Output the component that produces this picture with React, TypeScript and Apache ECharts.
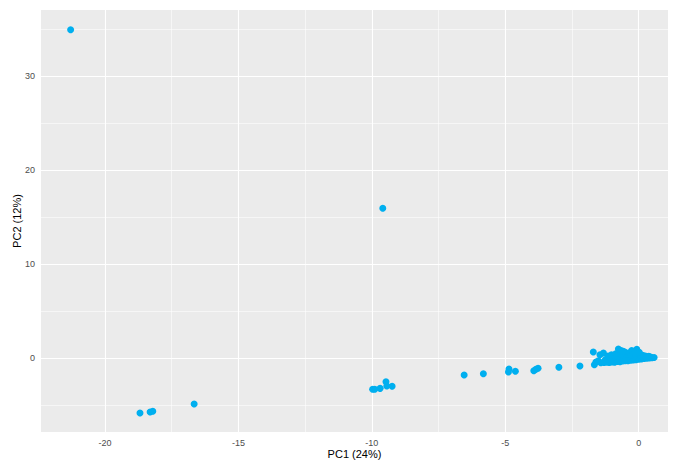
import React, { useEffect, useRef } from "react";
import * as echarts from "echarts";

// PCA scores: [PC1, PC2]
const outlierPoints: number[][] = [
  [-21.29, 34.9],
  [-9.59, 15.92],
  [-16.66, -4.89],
  [-18.69, -5.85],
  [-18.31, -5.74],
  [-18.21, -5.67],
  [-9.97, -3.33],
  [-9.89, -3.33],
  [-9.69, -3.23],
  [-9.47, -2.52],
  [-9.44, -2.98],
  [-9.24, -3.01],
  [-6.54, -1.81],
  [-5.82, -1.67],
  [-4.86, -1.17],
  [-4.88, -1.49],
  [-4.62, -1.42],
  [-3.93, -1.35],
  [-3.85, -1.2],
  [-3.77, -1.1],
  [-2.99, -0.99],
  [-2.2, -0.85],
];

const clusterPoints: number[][] = [
  [-1.66, -0.71], [-1.6, -0.43], [-1.7, 0.64], [-1.45, 0.35], [-1.32, 0.53],
  [-1.51, -0.29], [-1.42, -0.5], [-1.3, -0.48], [-1.2, -0.45], [-1.1, -0.47],
  [-1.0, -0.42], [-0.9, -0.44], [-0.8, -0.38], [-0.7, -0.4], [-0.6, -0.33],
  [-0.5, -0.3], [-0.4, -0.28], [-0.3, -0.25], [-0.2, -0.2], [-0.1, -0.18],
  [0.0, -0.14], [0.1, -0.1], [0.2, -0.06], [0.3, -0.03], [0.4, 0.0],
  [0.5, 0.02], [0.58, 0.06],
  [-1.25, -0.2], [-1.15, -0.1], [-1.05, 0.0], [-0.95, -0.12], [-0.85, 0.05],
  [-0.75, -0.08], [-0.65, 0.1], [-0.55, -0.05], [-0.45, 0.12], [-0.35, 0.0],
  [-0.25, 0.1], [-0.15, 0.02], [-0.05, 0.1], [0.05, 0.05], [0.15, 0.1],
  [0.25, 0.08], [0.35, 0.12], [0.45, 0.1],
  [-1.15, 0.2], [-1.02, 0.35], [-0.92, 0.3], [-0.86, 0.45], [-0.8, 0.25],
  [-0.7, 0.45], [-0.6, 0.3], [-0.52, 0.62], [-0.45, 0.4], [-0.36, 0.55],
  [-0.3, 0.3], [-0.22, 0.5], [-0.12, 0.35], [0.0, 0.45], [0.06, 0.4],
  [0.15, 0.28], [0.25, 0.22], [0.38, 0.18],
  [-0.76, 0.95], [-0.66, 0.8], [-0.58, 0.7], [-0.26, 0.78], [-0.07, 0.92],
  [-0.15, 0.68], [0.02, 0.6],
];

const xTicks = [-20, -15, -10, -5, 0];
const yTicks = [0, 10, 20, 30];
const xMinor = [-17.5, -12.5, -7.5, -2.5];
const yMinor = [-5, 5, 15, 25, 35];

const xTitle = "PC1 (24%)";
const yTitle = "PC2 (12%)";

export default function App() {
  const ref = useRef<HTMLDivElement>(null);
  useEffect(() => {
    if (!ref.current) return;
    const chart = echarts.init(ref.current, undefined, { renderer: "svg" });
    const major = { color: "#FFFFFF", width: 1.1, type: "solid" };
    const minor = { color: "#FFFFFF", width: 0.55, type: "solid" };
    const gridLines = [
      ...xMinor.map((v) => ({ xAxis: v, lineStyle: minor })),
      ...yMinor.map((v) => ({ yAxis: v, lineStyle: minor })),
      ...xTicks.map((v) => ({ xAxis: v, lineStyle: major })),
      ...yTicks.map((v) => ({ yAxis: v, lineStyle: major })),
    ];
    const labelStyle = {
      color: "#4D4D4D",
      fontSize: 9,
      fontFamily: "Liberation Sans, Arial, sans-serif",
    };
    chart.setOption({
      animation: false,
      backgroundColor: "#FFFFFF",
      grid: {
        left: 41,
        right: 5,
        top: 10,
        bottom: 30,
        containLabel: false,
        outerBoundsMode: "none",
        show: true,
        backgroundColor: "#EBEBEB",
        borderWidth: 0,
      },
      xAxis: {
        type: "value",
        min: -22.4,
        max: 1.1,
        axisLine: { show: false },
        axisTick: {
          show: true,
          customValues: xTicks,
          length: 3,
          lineStyle: { color: "#333333", width: 1 },
        },
        axisLabel: { ...labelStyle, customValues: xTicks, margin: 6 },
        splitLine: { show: false },
        name: xTitle,
        nameLocation: "middle",
        nameGap: 16,
        nameMoveOverlap: false,
        nameTextStyle: {
          color: "#000000",
          fontSize: 11,
          fontFamily: "Liberation Sans, Arial, sans-serif",
        },
      },
      yAxis: {
        type: "value",
        min: -7.87,
        max: 37.0,
        axisLine: { show: false },
        axisTick: {
          show: true,
          customValues: yTicks,
          length: 3,
          lineStyle: { color: "#333333", width: 1 },
        },
        axisLabel: { ...labelStyle, customValues: yTicks, margin: 6 },
        splitLine: { show: false },
        name: yTitle,
        nameLocation: "middle",
        nameGap: 19,
        nameMoveOverlap: false,
        nameTextStyle: {
          color: "#000000",
          fontSize: 11,
          fontFamily: "Liberation Sans, Arial, sans-serif",
        },
      },
      series: [
        {
          type: "scatter",
          data: [],
          silent: true,
          markLine: {
            silent: true,
            symbol: "none",
            z: 1,
            label: { show: false },
            emphasis: { disabled: true },
            data: gridLines,
          },
        },
        {
          type: "scatter",
          z: 3,
          symbol: "circle",
          symbolSize: 7,
          itemStyle: { color: "#00AFEF", opacity: 1 },
          data: [...outlierPoints, ...clusterPoints],
        },
      ],
    });
    return () => chart.dispose();
  }, []);
  return (
    <div
      ref={ref}
      style={{ position: "absolute", left: 0, top: 0, width: 673, height: 462 }}
    />
  );
}
